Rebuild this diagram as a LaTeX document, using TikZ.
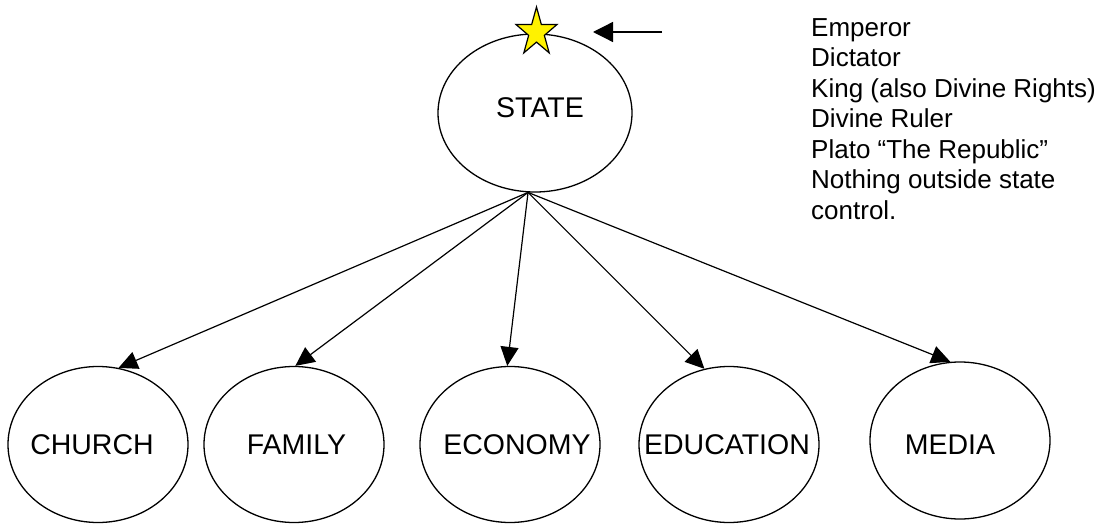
\documentclass[tikz,border=0pt]{standalone}
\usepackage{fontspec}
\setmainfont{Liberation Sans}
\usetikzlibrary{shapes.geometric,arrows.meta}
\tikzset{
  oval/.style={ellipse, draw=black, line width=1.3pt, minimum width=180pt, minimum height=156pt, inner sep=0pt},
  ovaltext/.style={inner sep=0pt, font=\fontsize{28.5pt}{30pt}\selectfont},
  sidetext/.style={inner sep=0pt, align=left, font=\fontsize{26pt}{30.5pt}\selectfont},
  link/.style={draw=black, line width=1.2pt, -{Triangle[length=19pt,width=18pt]}},
  pointer/.style={draw=black, line width=1.3pt, -{Triangle[length=20pt,width=20pt]}},
  starfill/.style={draw=black, line width=1.2pt, fill=yellow, line join=miter}
}
\begin{document}
\begin{tikzpicture}[x=1pt,y=-1pt]
\useasboundingbox (0,0) rectangle (1112,524);
% ellipses
\node[oval, minimum width=194pt, minimum height=158pt] (state) at (535,113) {};
\node[oval] (church) at (98,444.5) {};
\node[oval] (family) at (294,444.5) {};
\node[oval] (economy) at (510,444.5) {};
\node[oval] (education) at (729,444.5) {};
\node[oval, minimum height=157pt] (media) at (960,440.5) {};
% texts
\node[ovaltext] (statetxt) at (540,108) {STATE};
\node[ovaltext] (churchtxt) at (92,445) {CHURCH};
\node[ovaltext] (familytxt) at (296.5,445) {FAMILY};
\node[ovaltext] (economytxt) at (517,445) {ECONOMY};
\node[ovaltext] (educationtxt) at (727,445) {EDUCATION};
\node[ovaltext] (mediatxt) at (950,445) {MEDIA};
% connectors
\coordinate (hub) at (state.265);
\draw[link] (hub) -- (church.75);
\draw[link] (hub) -- (family.89);
\draw[link] (hub) -- (economy.92);
\draw[link] (hub) -- (education.108);
\draw[link] (hub) -- (media.97);
% star
\draw[starfill] (536.5,7.0) -- (541.35,24.55) -- (557.0,24.5) -- (544.35,35.4) -- (549.2,52.9)
  -- (536.5,42.1) -- (523.8,52.9) -- (528.65,35.4) -- (516.0,24.5) -- (531.65,24.55) -- cycle;
% pointer arrow
\coordinate (ptrtail) at (662,32);
\coordinate (ptrtip) at (593,32);
\draw[pointer] (ptrtail) -- (ptrtip);
% side text
\node[sidetext, anchor=north west] (rulers) at (811,18.3) {Emperor\\Dictator\\King (also Divine Rights)\\Divine Ruler\\Plato “The Republic”\\Nothing outside state\\control.};
\end{tikzpicture}
\end{document}
